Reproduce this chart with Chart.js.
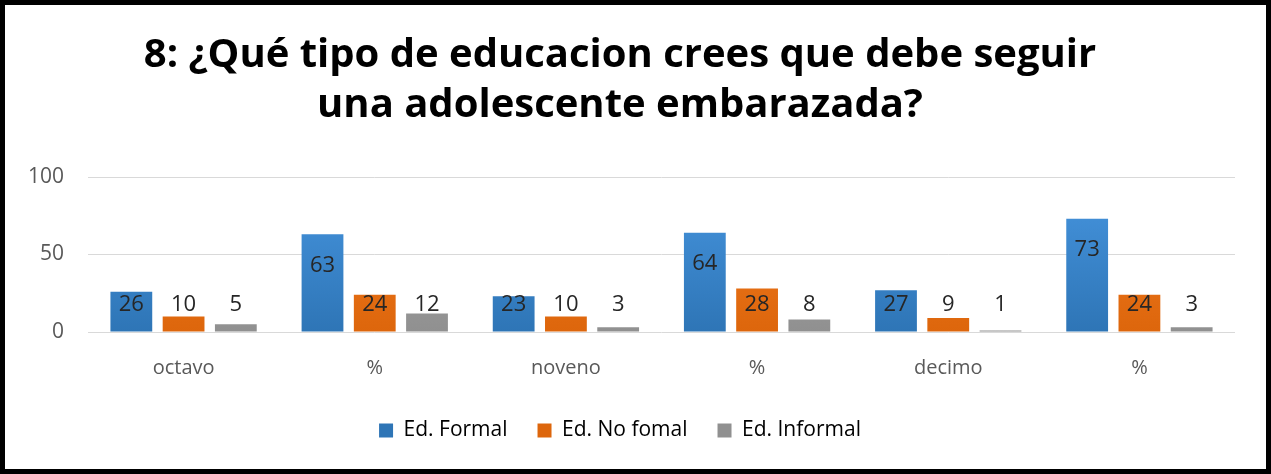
<!DOCTYPE html>
<html>
<head>
<meta charset="utf-8">
<script src="https://cdn.jsdelivr.net/npm/chart.js@4.4.0/dist/chart.umd.min.js"></script>
<style>
html,body{margin:0;padding:0;background:#fff;}
#wrap{width:1271px;height:474px;box-sizing:border-box;border:5px solid #000;background:#fff;}
canvas{display:block;}
</style>
</head>
<body>
<div id="wrap"><canvas id="c" width="1261" height="464"></canvas></div>
<script>
const categories = ["octavo", "%", "noveno", "%", "decimo", "%"];
const seriesNames = ["Ed. Formal", "Ed. No fomal", "Ed. Informal"];
const formal = [26, 63, 23, 64, 27, 73];
const noFormal = [10, 24, 10, 28, 9, 24];
const informal = [5, 12, 3, 8, 1, 3];
const yTicks = [0, 50, 100];
const titleLines = ["8: ¿Qué tipo de educacion crees que debe seguir", "una adolescente embarazada?"];

const FONT = "'Open Sans', sans-serif";
const colorStops = [
  ["#4796e0", "#2e75b6"],
  ["#f47d22", "#dd660c"],
  ["#ababab", "#909090"]
];

function grad(idx) {
  return function(ctx) {
    const chart = ctx.chart;
    const area = chart.chartArea;
    if (!area) return colorStops[idx][0];
    const g = chart.ctx.createLinearGradient(0, area.top, 0, area.bottom);
    g.addColorStop(0, colorStops[idx][0]);
    g.addColorStop(1, colorStops[idx][1]);
    return g;
  };
}

const labelPlugin = {
  id: 'barLabels',
  afterDatasetsDraw(chart) {
    const ctx = chart.ctx;
    ctx.save();
    ctx.font = "22px " + FONT;
    ctx.fillStyle = "#262626";
    ctx.textAlign = "center";
    ctx.textBaseline = "middle";
    chart.data.datasets.forEach((ds, i) => {
      const meta = chart.getDatasetMeta(i);
      meta.data.forEach((bar, j) => {
        const y = Math.min(bar.y + 31, bar.base - 27);
        ctx.fillText(String(ds.data[j]), bar.x, y);
      });
    });
    ctx.restore();
  }
};

new Chart(document.getElementById('c'), {
  type: 'bar',
  data: {
    labels: categories,
    datasets: [
      { label: seriesNames[0], data: formal, backgroundColor: grad(0) },
      { label: seriesNames[1], data: noFormal, backgroundColor: grad(1) },
      { label: seriesNames[2], data: informal, backgroundColor: grad(2) }
    ]
  },
  options: {
    responsive: false,
    animation: false,
    devicePixelRatio: 1,
    layout: { padding: { left: 0, right: 31, top: 0, bottom: 18 } },
    datasets: { bar: { categoryPercentage: 0.82, barPercentage: 0.80 } },
    plugins: {
      title: {
        display: true,
        text: titleLines,
        color: "#000",
        font: { family: FONT, size: 40, weight: 'bold', lineHeight: 1.25 },
        padding: { top: 26, bottom: 46 }
      },
      legend: {
        position: 'bottom',
        labels: {
          color: "#404040",
          font: { family: FONT, size: 21 },
          boxWidth: 14, boxHeight: 14,
          padding: 30,
          generateLabels(chart) {
            return chart.data.datasets.map((ds, i) => ({
              text: ds.label,
              fillStyle: colorStops[i][1],
              strokeStyle: colorStops[i][1],
              lineWidth: 0,
              datasetIndex: i
            }));
          }
        }
      },
      tooltip: { enabled: false }
    },
    scales: {
      x: {
        grid: { display: false, drawTicks: false },
        border: { display: false },
        ticks: { color: "#595959", font: { family: FONT, size: 20 }, padding: 24 },
        afterFit(s) { s.height = 58; }
      },
      y: {
        min: 0, max: 100,
        grid: { color: "#d9d9d9", drawTicks: false },
        border: { display: false },
        afterBuildTicks(s) { s.ticks = yTicks.map(v => ({ value: v })); },
        ticks: { color: "#595959", font: { family: FONT, size: 21 }, padding: 24 },
        afterFit(s) { s.width = 83; }
      }
    }
  },
  plugins: [labelPlugin]
});
</script>
</body>
</html>
